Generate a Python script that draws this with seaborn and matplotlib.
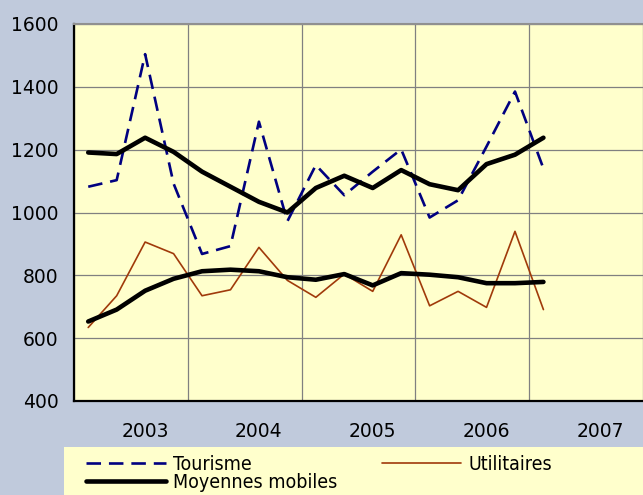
import matplotlib
matplotlib.use("Agg")
import matplotlib.pyplot as plt
import matplotlib.patches as mpatches
import seaborn as sns
import pandas as pd

# ----------------------------------------
# Data (quarterly values)
# ----------------------------------------

tourisme = [1082, 1103, 1504, 1092, 868, 893, 1289, 972, 1151, 1055,
            1130, 1201, 984, 1039, 1210, 1385, 1140]
utilitaires = [634, 735, 906, 869, 735, 754, 889, 784, 730, 804,
               749, 929, 703, 749, 698, 940, 691]
moy_tourisme = [1191, 1186, 1238, 1193, 1130, 1082, 1034, 1000, 1078, 1117,
                1078, 1135, 1090, 1071, 1154, 1184, 1238]
moy_utilitaires = [653, 691, 751, 789, 813, 818, 813, 794, 786, 804,
                   768, 807, 802, 794, 775, 775, 779]
years = ["2003", "2004", "2005", "2006", "2007"]

df = pd.DataFrame({
    "q": range(len(tourisme)),
    "Tourisme": tourisme,
    "Utilitaires": utilitaires,
    "MoyT": moy_tourisme,
    "MoyU": moy_utilitaires,
})

# ----------------------------------------
# Plot
# ----------------------------------------

sns.set_style("white")
plt.rcParams["font.family"] = ["DejaVu Sans"]
plt.rcParams["text.color"] = "black"
plt.rcParams["xtick.color"] = "black"
plt.rcParams["ytick.color"] = "black"

bg = "#C0CADC"
yellow = "#FFFFCC"

fig = plt.figure(figsize=(6.43, 4.95), dpi=100, facecolor=bg)
ax = fig.add_axes([74 / 643, 1 - 401 / 495, 1 - 74 / 643, (401 - 24) / 495])
ax.set_facecolor(yellow)

sns.lineplot(data=df, x="q", y="Tourisme", ax=ax, color="#000080",
             linewidth=1.9, label="Tourisme")
ax.lines[-1].set_dashes([5.5, 3])
sns.lineplot(data=df, x="q", y="MoyT", ax=ax, color="black",
             linewidth=3.3, label="Moyennes mobiles")
sns.lineplot(data=df, x="q", y="Utilitaires", ax=ax, color="#A03A0A",
             linewidth=1.2, label="Utilitaires")
sns.lineplot(data=df, x="q", y="MoyU", ax=ax, color="black",
             linewidth=3.3)

ax.set_xlim(-0.5, 19.4)
ax.set_ylim(400, 1600)
ax.set_yticks(range(400, 1601, 200))
ax.set_xticks([-0.5, 3.5, 7.5, 11.5, 15.5, 19.5])
ax.set_xticklabels([])
ax.set_xticks([2, 6, 10, 14, 18], minor=True)
ax.set_xticklabels(years, minor=True)
ax.set_xlabel("")
ax.set_ylabel("")

ax.grid(True, which="major", color="#808080", linewidth=0.9)
ax.tick_params(axis="both", which="major", direction="out", length=5,
               width=1.2, color="black", labelcolor="black",
               labelsize=13.5, pad=6)
ax.tick_params(axis="x", which="minor", length=0, pad=15, labelsize=13.5,
               labelcolor="black")

for s in ["left", "bottom"]:
    ax.spines[s].set_color("black")
    ax.spines[s].set_linewidth(1.6)
ax.spines["top"].set_color("#909090")
ax.spines["top"].set_linewidth(1.5)
ax.spines["right"].set_visible(False)

# legend box
fig.patches.append(mpatches.Rectangle((64 / 643, 0), 1, 48 / 495,
                                      transform=fig.transFigure,
                                      facecolor=yellow, edgecolor="none",
                                      zorder=0))
ax.get_legend().remove()
handles, labels = ax.get_legend_handles_labels()
leg = fig.legend(handles, labels, ncol=2, loc="upper left",
                 bbox_to_anchor=(86 / 643, 1 - 455 / 495), frameon=False,
                 prop={"size": 14, "stretch": "condensed"},
                 handlelength=4.1, handletextpad=0.35,
                 columnspacing=2.3, labelspacing=-0.05, borderaxespad=0,
                 borderpad=0)

fig.savefig("out.png", dpi=100, facecolor=bg)
